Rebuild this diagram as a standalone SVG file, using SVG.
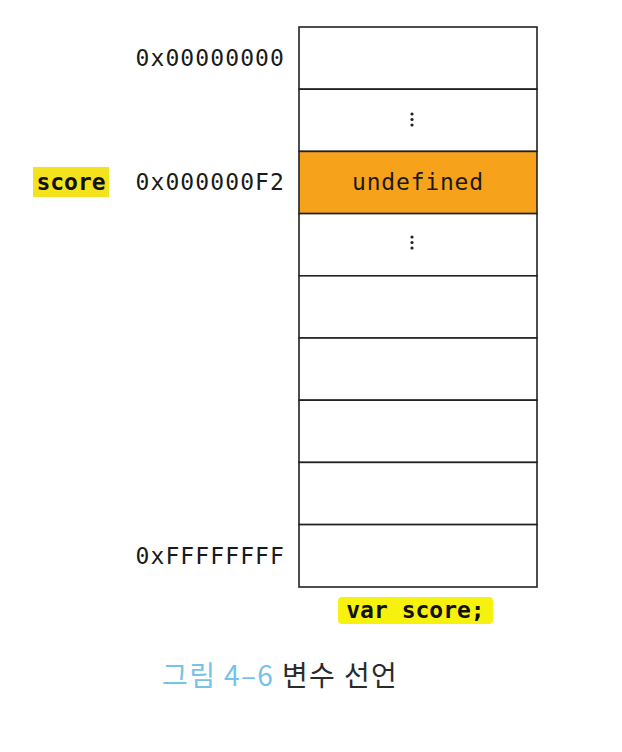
<svg xmlns="http://www.w3.org/2000/svg" width="622" height="752" viewBox="0 0 622 752">
<style>
.cell{fill:#ffffff;stroke:#222222;stroke-width:1.6}
.hot{fill:#f7a21b;stroke:#222222;stroke-width:1.6}
.addr{font-family:"DejaVu Sans Mono","Liberation Mono",monospace;font-size:23px;letter-spacing:1.1px;fill:#1a1a1a;text-anchor:end}
.val{font-family:"DejaVu Sans Mono","Liberation Mono",monospace;font-size:23px;letter-spacing:0.8px;fill:#1a1a1a;text-anchor:middle}
.dots{fill:#222222}
.hl{fill:#f3e21c}
.code{font-family:"DejaVu Sans Mono","Liberation Mono",monospace;font-size:23px;font-weight:bold;fill:#111111;text-anchor:middle}
.cap{font-family:"Noto Sans CJK KR","Noto Sans",sans-serif;font-size:28px;letter-spacing:1.4px}
</style>
<rect width="622" height="752" fill="#ffffff"/>
<g id="memory">
<g id="row0"><rect class="cell" x="299" y="27" width="238" height="62.2"/></g>
<g id="row1"><rect class="cell" x="299" y="89.2" width="238" height="62.2"/>
<circle class="dots" cx="412" cy="114" r="1.6"/><circle class="dots" cx="412" cy="119.5" r="1.6"/><circle class="dots" cx="412" cy="125" r="1.6"/></g>
<g id="row2"><rect class="hot" x="299" y="151.4" width="238" height="62.2"/>
<text class="val" x="418" y="190">undefined</text></g>
<g id="row3"><rect class="cell" x="299" y="213.6" width="238" height="62.2"/>
<circle class="dots" cx="412" cy="237" r="1.6"/><circle class="dots" cx="412" cy="242.5" r="1.6"/><circle class="dots" cx="412" cy="248" r="1.6"/></g>
<g id="row4"><rect class="cell" x="299" y="275.8" width="238" height="62.2"/></g>
<g id="row5"><rect class="cell" x="299" y="338" width="238" height="62.2"/></g>
<g id="row6"><rect class="cell" x="299" y="400.2" width="238" height="62.2"/></g>
<g id="row7"><rect class="cell" x="299" y="462.4" width="238" height="62.2"/></g>
<g id="row8"><rect class="cell" x="299" y="524.6" width="238" height="62.4"/></g>
</g>
<g id="addresses">
<text class="addr" x="285" y="66">0x00000000</text>
<text class="addr" x="285" y="190">0x000000F2</text>
<text class="addr" x="285" y="564">0xFFFFFFFF</text>
</g>
<g id="score-label">
<rect class="hl" x="33" y="167" width="76" height="30"/>
<text class="code" x="71" y="190">score</text>
</g>
<g id="declaration">
<rect x="338" y="597" width="155" height="27" rx="4" fill="#f6f20e"/>
<text class="code" x="415.5" y="618">var score;</text>
</g>
<g id="caption">
<text class="cap" x="162" y="686"><tspan fill="#76c3e6">그림 4–6</tspan><tspan fill="#2a2a2a"> 변수 선언</tspan></text>
</g>
</svg>
